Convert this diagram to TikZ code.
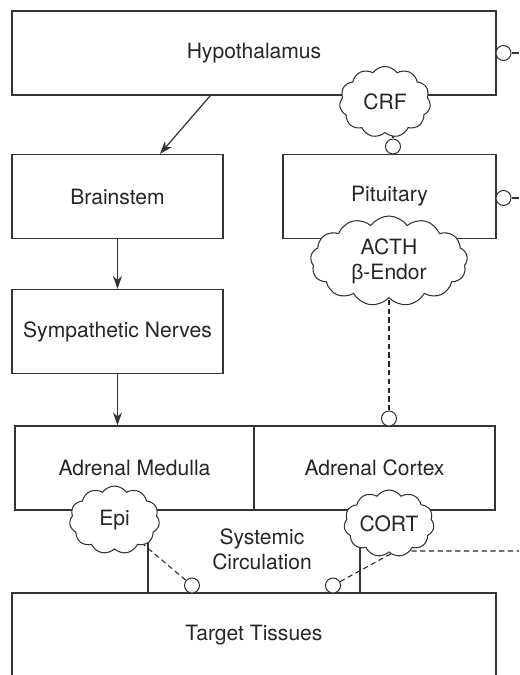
\documentclass[tikz,border=0pt]{standalone}
\usepackage{fontspec}
\setmainfont{TeX Gyre Heros}
\newfontfamily\greekfont{Liberation Sans}
\usetikzlibrary{shapes.symbols, positioning, arrows.meta, calc, backgrounds}

\begin{document}
\begin{tikzpicture}[
        >={Stealth[length=2.6mm, width=1.8mm]},
        font=\fontsize{12}{14.2}\selectfont,
        box_style/.style={draw=black!80, line width=0.7pt, minimum height=1.68cm, inner sep=0pt, text=black!85},
        cloud_style/.style={cloud, cloud puffs=11, cloud puff arc=110, cloud ignores aspect, draw=black!80,
            line width=0.6pt, fill=white, inner sep=0pt, text=black!85, align=center},
        port_style/.style={circle, draw=black!80, line width=0.6pt, fill=white, minimum size=0.3cm, inner sep=0pt},
        arrow_style/.style={->, draw=black!80, line width=0.7pt},
        link_style/.style={draw=black!80, line width=0.6pt},
        dash_style/.style={draw=black!85, line width=0.6pt, dash pattern=on 3pt off 2pt}
    ]

    % page frame (target box runs off the bottom edge)
    \clip (0,0) rectangle (10.38,-13.5);

    % =========================================================================
    % 1. ORGAN BOXES
    % =========================================================================
    \node[box_style, minimum width=9.68cm] (hyp) at (5.08,-1.06) {Hypothalamus};
    \node[box_style, minimum width=4.22cm] (brain) at (2.35,-3.93) {Brainstem};
    \node[box_style, minimum width=4.26cm] (pit) at (7.79,-3.93) {Pituitary};
    \node[box_style, minimum width=4.22cm] (symp) at (2.35,-6.63) {Sympathetic Nerves};
    \node[box_style, minimum width=4.78cm] (medulla) at (2.69,-9.36) {Adrenal Medulla};
    \node[box_style, minimum width=4.82cm] (cortex) at (7.49,-9.36) {Adrenal Cortex};
    \node[box_style, minimum width=9.68cm] (target) at (5.08,-12.70) {Target Tissues};

    \node[align=center, text=black!85] (circ) at (5.24,-10.98) {Systemic\\Circulation};

    % =========================================================================
    % 2. HORMONE CLOUDS
    % =========================================================================
    \node[cloud_style, minimum width=1.82cm, minimum height=1.42cm] (crf) at (7.70,-2.04) {CRF};
    \node[cloud_style, cloud puffs=13, minimum width=3.14cm, minimum height=1.8cm] (acth) at (7.78,-5.22)
        {ACTH\\{\greekfont β}-Endor};
    \node[cloud_style, minimum width=1.8cm, minimum height=1.36cm] (epi) at (2.29,-10.40) {Epi};
    \node[cloud_style, minimum width=1.8cm, minimum height=1.34cm] (cort) at (7.78,-10.47) {CORT};

    % =========================================================================
    % 3. RECEPTOR ENDINGS
    % =========================================================================
    \node[port_style] (hypport) at (10.07,-1.06) {};
    \node[port_style] (pitport) at (10.07,-3.96) {};
    \node[port_style] (crfport) at (7.86,-2.93) {};
    \node[port_style] (acthport) at (7.78,-8.37) {};
    \node[port_style] (epiport) at (3.84,-11.71) {};
    \node[port_style] (cortport) at (6.66,-11.71) {};

    \coordinate (epidrop) at (2.96,-10.40);
    \coordinate (cortdrop) at (7.20,-10.50);
    \coordinate (cortout) at (7.92,-11.02);
    \coordinate (cortend) at (10.38,-11.02);

    % =========================================================================
    % 4. CONNECTORS
    % =========================================================================
    \draw[arrow_style] ($(hyp.south west)!.41!(hyp.south east)$) -- ($(brain.north west)!.7!(brain.north east)$);
    \draw[arrow_style] (brain.south) -- (symp.north);
    \draw[arrow_style] (symp.south) -- (symp.south |- medulla.north);

    \draw[link_style] (hypport.east) -- ++(0.14,0);
    \draw[link_style] (pitport.east) -- ++(0.14,0);

    % lines that start under the clouds
    \begin{scope}[on background layer]
        \draw[link_style] (crfport.north) -- (crfport.north |- crf.center);
        \draw[dash_style] (acthport.north) -- (acth.center);
        \draw[link_style] (epidrop) -- (epidrop |- target.north);
        \draw[dash_style] (epi.center) -- (epiport);
        \draw[link_style] (cortdrop) -- (cortdrop |- target.north);
        \draw[dash_style] (cortport) -- (cortout) -- (cortend);
    \end{scope}

\end{tikzpicture}
\end{document}
